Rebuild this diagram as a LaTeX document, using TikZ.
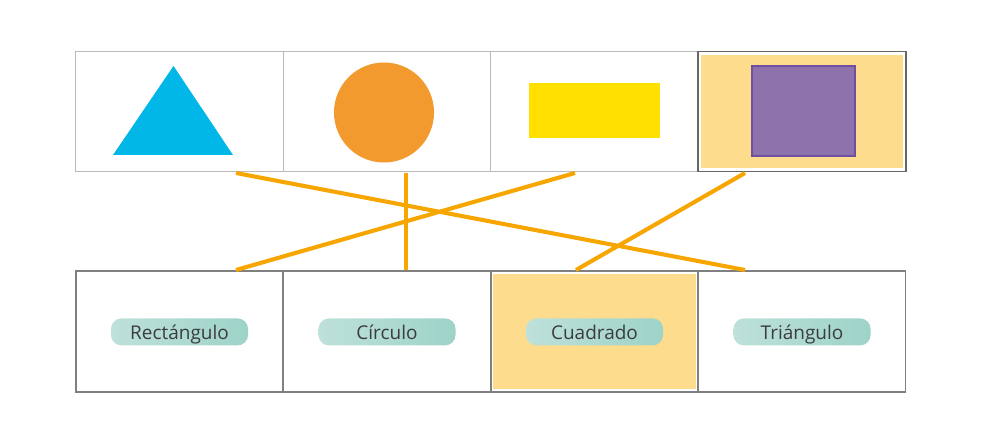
\documentclass[tikz,border=0pt]{standalone}
\usepackage{fontspec}
\setmainfont{Open Sans}
\usepackage{tikz}

\definecolor{hl}{HTML}{FDDC8E}
\definecolor{tri}{HTML}{00B7E8}
\definecolor{circ}{HTML}{F39A2F}
\definecolor{rect}{HTML}{FFE000}
\definecolor{sq}{HTML}{8E72AB}
\definecolor{sqline}{HTML}{6F50A0}
\definecolor{link}{HTML}{F7A600}
\definecolor{pillL}{HTML}{BEE1DA}
\definecolor{pillR}{HTML}{9DD3C8}
\definecolor{txt}{HTML}{3C3C3C}

\begin{document}
\begin{tikzpicture}[x=0.025cm,y=-0.025cm]
	\useasboundingbox (0,0) rectangle (1004,444);
	% top row: figures
	\begin{scope}[minimum width=5.175cm,minimum height=2.975cm,inner sep=0pt]
	\tikzstyle{every node}=[draw=black!27,line width=0.7pt]
	\foreach \i/\x in {1/179.5,2/387,3/594.5,4/802} {
		\node (fig\i) at (\x,111.5) {};
	}
	\node[draw=none,fill=hl,minimum width=5.05cm,minimum height=2.825cm] at (fig4) {};
	\end{scope}
	\draw[black!60,line width=0.8pt] (fig4.north west) rectangle (fig4.south east);

	\fill[tri] (113,155) -- (173.5,66) -- (233,155) -- cycle;
	\fill[circ] (384,112.5) circle[radius=1.25cm];
	\fill[rect] (529,83) rectangle (660,138);
	\filldraw[fill=sq,draw=sqline,line width=1.2pt] (752,66) rectangle (855,156);

	% bottom row: names
	\begin{scope}[minimum width=5.175cm,minimum height=3.025cm,inner sep=0pt]
	\tikzstyle{every node}=[draw=black!50,line width=0.8pt]
	\foreach \i/\x in {1/179.5,2/387,3/594.5,4/802} {
		\node (nom\i) at (\x,331.5) {};
	}
	\node[draw=none,fill=hl,minimum width=5.05cm,minimum height=2.85cm] at (nom3) {};
	\end{scope}

	\begin{scope}[minimum width=3.425cm,minimum height=0.675cm,inner sep=0pt]
	\tikzstyle{every node}=[rounded corners=0.26cm,left color=pillL,right color=pillR,text=txt,
		text height=14pt,text depth=3pt,font=\fontsize{13.5}{15}\selectfont]
	\foreach \i/\t in {1/Rectángulo,2/Círculo,3/Cuadrado,4/Triángulo} {
		\node (lab\i) at ([yshift=-0.3pt]nom\i) {\t};
	}
	\end{scope}

	% links
	\coordinate (f1) at (236,173);
	\coordinate (f2) at (406,173);
	\coordinate (f3) at (575,173);
	\coordinate (f4) at (745,173);
	\coordinate (n1) at (236,270);
	\coordinate (n2) at (406,270);
	\coordinate (n3) at (576,270);
	\coordinate (n4) at (745,270);
	\tikzstyle{link}=[draw=link,line width=2.9pt]
	\draw[link] (f1) -- (n4);
	\draw[link] (f2) -- (n2);
	\draw[link] (f3) -- (n1);
	\draw[link] (f4) -- (n3);
\end{tikzpicture}
\end{document}
